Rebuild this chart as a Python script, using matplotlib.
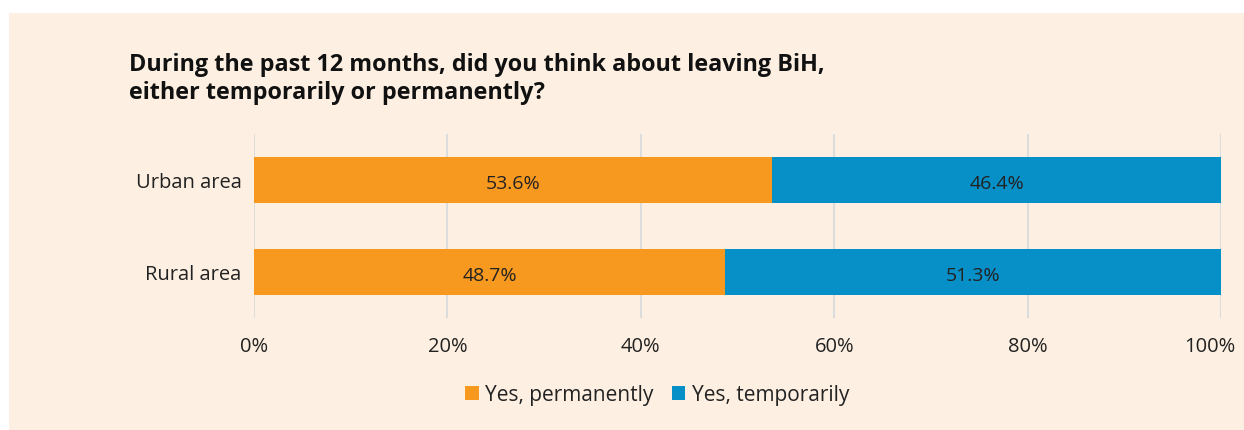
import matplotlib
matplotlib.use("Agg")
import matplotlib.pyplot as plt
import matplotlib.transforms as mtransforms
from matplotlib.patches import Rectangle
import numpy as np

plt.rcParams["font.family"] = ["Open Sans", "DejaVu Sans"]

categories = ["Urban area", "Rural area"]
permanently = [53.6, 48.7]
temporarily = [46.4, 51.3]
series_names = ["Yes, permanently", "Yes, temporarily"]
xticks = [0, 20, 40, 60, 80, 100]
title = ("During the past 12 months, did you think about leaving BiH,\n"
         "either temporarily or permanently?")

ORANGE = "#F7991F"
BLUE = "#078FC7"
BG = "#FDF0E2"
TXT = "#222222"

fig = plt.figure(figsize=(12.44, 4.30), dpi=100)
fig.patch.set_facecolor("white")
# peach panel with a thin white margin at top/left
fig.add_artist(Rectangle((9 / 1244, 0), 1 - 9 / 1244, 1 - 13 / 430,
                         transform=fig.transFigure, facecolor=BG,
                         edgecolor="none", zorder=-10))

ax = fig.add_axes([254 / 1244, 1 - 318 / 430, (1221 - 254) / 1244, (318 - 134) / 430])
ax.set_facecolor("none")

y = np.arange(len(categories))
b1 = ax.barh(y, permanently, height=0.5, color=ORANGE, label=series_names[0], zorder=2)
b2 = ax.barh(y, temporarily, left=permanently, height=0.5, color=BLUE,
             label=series_names[1], zorder=2)

for bars, vals, lefts in ((b1, permanently, [0, 0]), (b2, temporarily, permanently)):
    for bar, v, l in zip(bars, vals, lefts):
        ax.text(l + v / 2, bar.get_y() + bar.get_height() / 2 + 0.04, f"{v:.1f}%",
                ha="center", va="center", fontsize=14, color=TXT, zorder=3)

ax.set_xlim(0, 100)
ax.set_ylim(1.5, -0.5)
ax.set_yticks(y)
ax.set_yticklabels(categories, fontsize=14.5, color=TXT)
ax.set_xticks(xticks)
ax.set_xticklabels([f"{t}%" for t in xticks], fontsize=14.5, color=TXT)
ax.tick_params(axis="both", length=0)
ax.tick_params(axis="y", pad=9)
ax.tick_params(axis="x", pad=14)
ax.grid(axis="x", color="#DCDCDC", lw=1.5, zorder=1)
for s in ax.spines.values():
    s.set_visible(False)

# last tick label sits a bit left of its gridline, as in the original
last = ax.get_xticklabels()[-1]
last.set_transform(last.get_transform() + mtransforms.ScaledTranslation(-0.11, 0, fig.dpi_scale_trans))

fig.text(129 / 1244, 1 - 53 / 430, title, fontsize=16.8, fontweight="bold",
         color="#111111", va="top", ha="left", linespacing=1.2)

handles, labels = ax.get_legend_handles_labels()
leg = fig.legend(handles, labels, loc="center", bbox_to_anchor=(657 / 1244, 1 - 395 / 430),
                 ncol=2, frameon=False, fontsize=15, handlelength=0.65, handleheight=0.65,
                 handletextpad=0.3, columnspacing=0.9)
for t in leg.get_texts():
    t.set_color(TXT)

fig.savefig("out.png", dpi=100, facecolor=fig.get_facecolor())
